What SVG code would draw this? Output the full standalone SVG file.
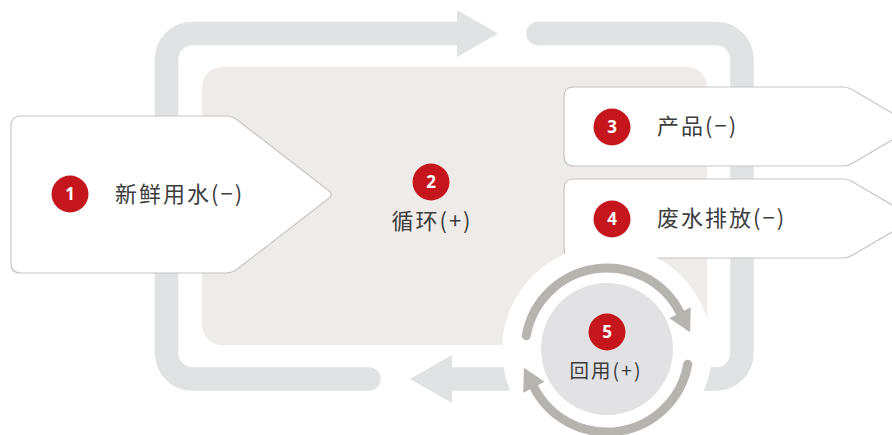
<svg xmlns="http://www.w3.org/2000/svg" width="892" height="435" viewBox="0 0 892 435">
  <style>
    .loop { fill: none; stroke: #e1e2e4; stroke-width: 23.5; stroke-linecap: round; stroke-linejoin: round; }
    .loophead { fill: #e1e2e4; }
    .box { fill: #ffffff; stroke: #c6c6c6; stroke-width: 1.2; }
    .badge { fill: #c5161d; }
    .num { fill: #ffffff; font-family: "Open Sans", "Noto Sans", sans-serif; font-weight: bold; font-size: 17px; text-anchor: middle; }
    .lbl { fill: #3d3d3d; font-family: "Noto Sans CJK SC", "Noto Sans", sans-serif; font-size: 22px; letter-spacing: 2px; }
    .ring { fill: none; stroke: #b7b4af; stroke-width: 9; stroke-linecap: round; }
    .ringhead { fill: #b7b4af; }
  </style>
  <rect width="892" height="435" fill="#ffffff"/>

  <g id="connectors">
    <path class="loop" d="M 369 379 H 192.5 A 26 26 0 0 1 166.5 353 V 59.5 A 26 26 0 0 1 192.5 33.5 H 458"/>
    <polygon class="loophead" points="457,10 498,33.5 457,57"/>
    <path class="loop" d="M 538 33.5 H 716 A 26 26 0 0 1 742 59.5 V 353 A 26 26 0 0 1 716 379 H 452"/>
    <polygon class="loophead" points="452,355 410,379 452,403"/>
  </g>

  <g id="node2">
    <rect x="202" y="67" width="505" height="278" rx="20" fill="#efebe8"/>
    <circle class="badge" cx="431" cy="182" r="18.5"/>
    <text class="num" x="431" y="188">2</text>
    <text class="lbl" x="432" y="229" text-anchor="middle">循环(+)</text>
  </g>

  <g id="node1">
    <path class="box" d="M 21 116 H 226 Q 232 116 237 119.7 L 328.5 190.5 Q 334 194.5 328.5 198.5 L 237 269.3 Q 232 273 226 273 H 21 Q 11 273 11 263 V 126 Q 11 116 21 116 Z"/>
    <circle class="badge" cx="70" cy="194" r="18.5"/>
    <text class="num" x="70" y="200">1</text>
    <text class="lbl" x="115" y="202">新鲜用水(−)</text>
  </g>

  <g id="node3">
    <path class="box" d="M 574 87 H 843 Q 848 87 852 89.5 L 915 126.5 L 852 163.5 Q 848 166 843 166 H 574 Q 564 166 564 156 V 97 Q 564 87 574 87 Z"/>
    <circle class="badge" cx="612" cy="127" r="18.5"/>
    <text class="num" x="612" y="133">3</text>
    <text class="lbl" x="657" y="134">产品(−)</text>
  </g>

  <g id="node4">
    <path class="box" d="M 574 179 H 843 Q 848 179 852 181.5 L 915 218.5 L 852 255.5 Q 848 258 843 258 H 574 Q 564 258 564 248 V 189 Q 564 179 574 179 Z"/>
    <circle class="badge" cx="612" cy="219" r="18.5"/>
    <text class="num" x="612" y="225">4</text>
    <text class="lbl" x="657" y="226">废水排放(−)</text>
  </g>

  <g id="node5">
    <circle cx="607" cy="350" r="105" fill="#ffffff"/>
    <path class="ring" d="M 526.25 335.76 A 82 82 0 0 1 680.06 312.77"/>
    <polygon class="ringhead" points="690.05,332.37 690.75,307.32 669.37,318.22"/>
    <path class="ring" d="M 687.75 364.24 A 82 82 0 0 1 533.94 387.23"/>
    <polygon class="ringhead" points="523.95,367.63 523.25,392.68 544.63,381.78"/>
    <circle cx="607" cy="349" r="66" fill="#e2e2e4"/>
    <circle class="badge" cx="607" cy="332" r="18.5"/>
    <text class="num" x="607" y="338">5</text>
    <text class="lbl" x="606" y="378" text-anchor="middle" style="font-size:19.5px">回用(+)</text>
  </g>
</svg>
